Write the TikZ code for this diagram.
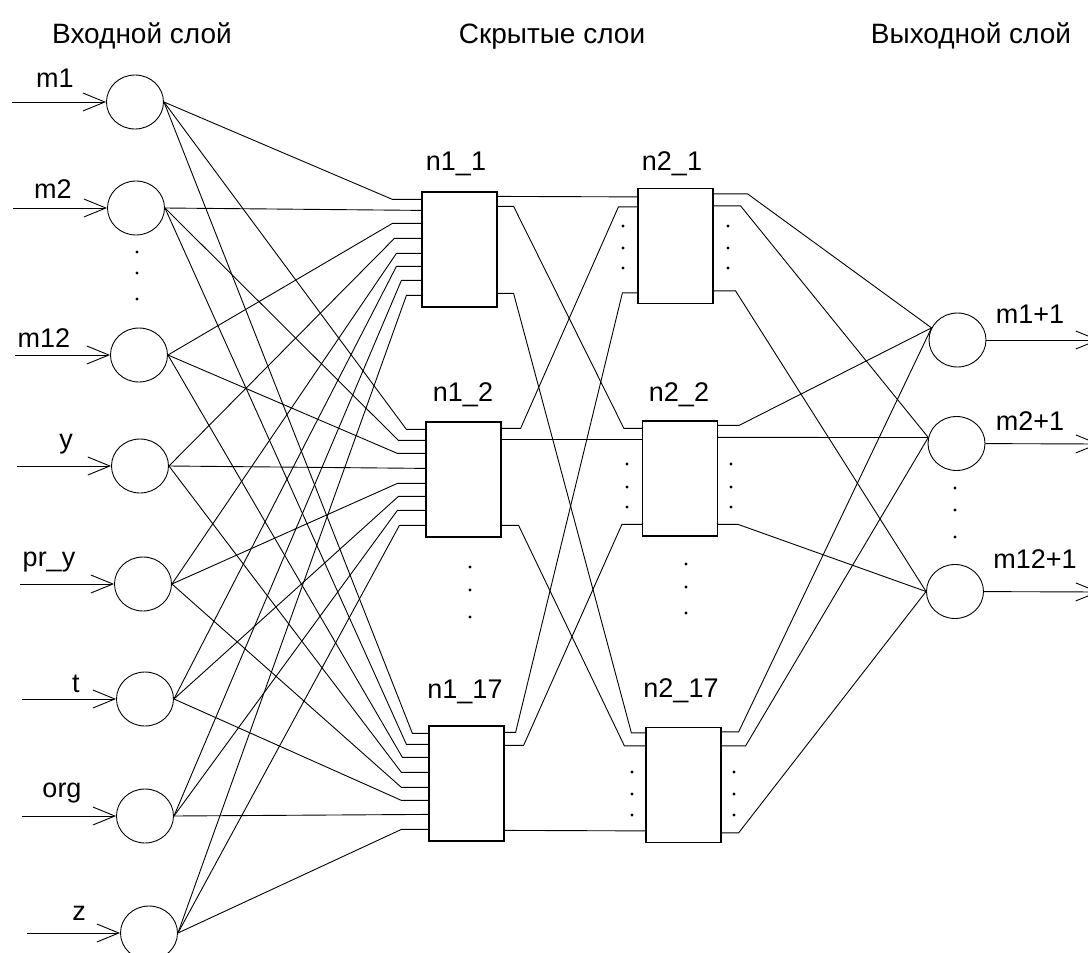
\documentclass[tikz,border=0pt]{standalone}
\usepackage{fontspec}
\setmainfont{Liberation Sans}
\usetikzlibrary{shapes.geometric,arrows.meta,calc}

\begin{document}
\begin{tikzpicture}[x=1pt,y=-1pt,
  neuron/.style={draw, ellipse, minimum width=57pt, minimum height=54pt, inner sep=0pt, line width=0.9pt},
  layerbox/.style={draw, rectangle, minimum width=75pt, minimum height=115pt, inner sep=0pt, line width=1.2pt},
  wire/.style={line width=0.9pt},
  inarrow/.style={line width=0.9pt, -{Straight Barb[length=22pt,width=18pt]}},
  lbl/.style={font=\fontsize{27}{32}\selectfont, anchor=base, inner sep=0pt},
  head/.style={font=\fontsize{28}{34}\selectfont, anchor=base, inner sep=0pt},
  smalldot/.style={circle, fill, inner sep=0pt, minimum size=3.2pt},
]
\useasboundingbox (0,0) rectangle (1088,953);

% layer titles
\node[head] (hIn)  at (142,43) {Входной слой};
\node[head] (hHid) at (552,43) {Скрытые слои};
\node[head] (hOut) at (971,43) {Выходной слой};

% input neurons with their incoming arrows and labels
\foreach \k/\x/\y/\ax/\txt/\lx/\ly in {
  1/135/102/12/m1/55/87,
  2/136/208/13/m2/53/198,
  3/139/355/15/m12/44/347,
  4/140/466/17/y/66/448,
  5/143/584/20/pr\_y/49/566,
  6/145/699/22/t/76/692,
  7/145/816/22/org/62/797,
  8/149/933/27/z/79/920} {
  \node[neuron] (i\k) at (\x,\y) {};
  \coordinate (a\k) at (\ax,\y);
  \draw[inarrow] (a\k) -- (i\k);
  \node[lbl] (li\k) at (\lx,\ly) {\txt};
}

% hidden layer blocks
\node[layerbox] (A1) at (459.5,249.5) {};
\node[layerbox] (A2) at (463.5,479.5) {};
\node[layerbox] (A3) at (466.5,783.5) {};
\node[layerbox] (B1) at (675.5,246) {};
\node[layerbox] (B2) at (680,478.5) {};
\node[layerbox] (B3) at (683.5,785) {};

\node[lbl] (tA1) at (456,170) {n1\_1};
\node[lbl] (tA2) at (463,401) {n1\_2};
\node[lbl] (tA3) at (465,698) {n1\_17};
\node[lbl] (tB1) at (672,170) {n2\_1};
\node[lbl] (tB2) at (679,401) {n2\_2};
\node[lbl] (tB3) at (681,697) {n2\_17};

% input pins of the first hidden layer
\foreach \k/\o in {1/8,2/19,3/32,4/47,5/62,6/75,7/89,8/104} {
  \foreach \bx in {A1,A2,A3} {
    \coordinate (\bx l\k) at ($(\bx.north west)+(0,\o)$);
  }
}

% every input feeds every block of the first hidden layer
\foreach \k/\sa/\sb/\sc in {1/29/19/16, 2/0/27/22, 3/29/28/26, 4/27/0/27,
                            5/25/28/27, 6/25/27/27, 7/20/28/0, 8/15/26/27} {
  \draw[wire] (i\k.east) -- ($(A1l\k)+(-\sa,0)$) -- (A1l\k);
  \draw[wire] (i\k.east) -- ($(A2l\k)+(-\sb,0)$) -- (A2l\k);
  \draw[wire] (i\k.east) -- ($(A3l\k)+(-\sc,0)$) -- (A3l\k);
}

% output pins of the first layer, pins of the second layer
\foreach \bx/\p/\q/\r in {A1/5/15/102, A2/7/18/104, A3/7/20/105} {
  \coordinate (\bx r1) at ($(\bx.north east)+(0,\p)$);
  \coordinate (\bx r2) at ($(\bx.north east)+(0,\q)$);
  \coordinate (\bx r3) at ($(\bx.north east)+(0,\r)$);
}
\foreach \bx/\p/\q/\r in {B1/9/19/105, B2/8/19/104, B3/6/19/104} {
  \coordinate (\bx l1) at ($(\bx.north west)+(0,\p)$);
  \coordinate (\bx l2) at ($(\bx.north west)+(0,\q)$);
  \coordinate (\bx l3) at ($(\bx.north west)+(0,\r)$);
}
\foreach \bx/\p/\q/\r in {B1/6/18/103, B2/5/17/104, B3/5/19/106} {
  \coordinate (\bx r1) at ($(\bx.north east)+(0,\p)$);
  \coordinate (\bx r2) at ($(\bx.north east)+(0,\q)$);
  \coordinate (\bx r3) at ($(\bx.north east)+(0,\r)$);
}

% first hidden layer -> second hidden layer
\draw[wire] (A1r1) -- (B1l1);
\draw[wire] (A1r2) -- ++(16,0) -- ($(B2l1)+(-18,0)$) -- (B2l1);
\draw[wire] (A1r3) -- ++(16,0) -- ($(B3l1)+(-14,0)$) -- (B3l1);
\draw[wire] (A2r1) -- ++(19,0) -- ($(B1l2)+(-19,0)$) -- (B1l2);
\draw[wire] (A2r2) -- (B2l2);
\draw[wire] (A2r3) -- ++(17,0) -- ($(B3l2)+(-21,0)$) -- (B3l2);
\draw[wire] (A3r1) -- ++(11,0) -- ($(B1l3)+(-15,0)$) -- (B1l3);
\draw[wire] (A3r2) -- ++(19,0) -- ($(B2l3)+(-20,0)$) -- (B2l3);
\draw[wire] (A3r3) -- (B3l3);

% output neurons
\node[neuron] (o1) at (957.5,340) {};
\node[neuron] (o2) at (956.5,443.5) {};
\node[neuron] (o3) at (955,591.5) {};

% second hidden layer -> outputs
\draw[wire] (B1r1) -- ++(34,0) -- (o1.155);
\draw[wire] (B1r2) -- ++(27,0) -- (o2.168);
\draw[wire] (B1r3) -- ++(22,0) -- (o3.180);
\draw[wire] (B2r1) -- ++(21,0) -- (o1.155);
\draw[wire] (B2r2) -- (o2.168);
\draw[wire] (B2r3) -- ++(20,0) -- (o3.180);
\draw[wire] (B3r1) -- ++(17,0) -- (o1.155);
\draw[wire] (B3r2) -- ++(24,0) -- (o2.168);
\draw[wire] (B3r3) -- ++(17,0) -- (o3.180);

% outgoing arrows and labels
\coordinate (e1) at (1099,340);
\coordinate (e2) at (1099,444);
\coordinate (e3) at (1099,592);
\draw[inarrow] (o1) -- (e1);
\draw[inarrow] (o2) -- (e2);
\draw[inarrow] (o3) -- (e3);
\node[lbl] (lo1) at (1030,323) {m1+1};
\node[lbl] (lo2) at (1030,430) {m2+1};
\node[lbl] (lo3) at (1035,568) {m12+1};

% ellipsis dots
\foreach \k/\x/\y in {
  1/137/252, 2/137/273, 3/137/299,
  4/955/488, 5/955/510, 6/955/537,
  7/470/567, 8/470/590, 9/470/617,
  10/686/564, 11/686/587, 12/686/613,
  13/623/226, 14/623/248, 15/623/268,
  16/728/226, 17/728/248, 18/728/268,
  19/627/464, 20/627/487, 21/627/507,
  22/731/464, 23/731/487, 24/731/507,
  25/632/772, 26/632/794, 27/632/815,
  28/734/772, 29/734/794, 30/734/815} {
  \node[smalldot] (d\k) at (\x,\y) {};
}
\end{tikzpicture}
\end{document}
